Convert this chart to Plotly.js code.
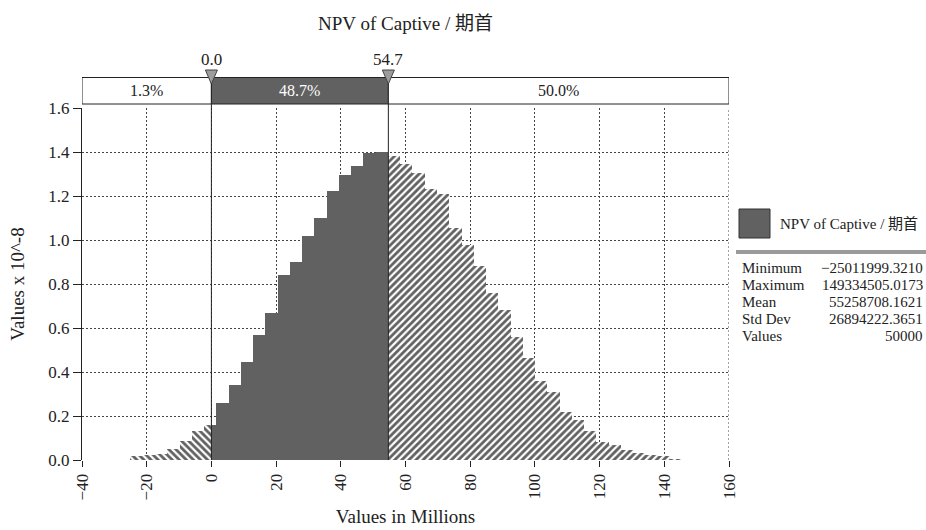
<!DOCTYPE html>
<html>
<head>
<meta charset="utf-8">
<script src="https://cdn.plot.ly/plotly-3.0.1.min.js"></script>
<style>html,body{margin:0;padding:0;background:#fff;}#chart{width:926px;height:530px;}</style>
</head>
<body>
<div id="chart"></div>
<script>
// ---- data ----
const chartTitle = 'NPV of Captive / 期首';
const xTitle = 'Values in Millions';
const yTitle = 'Values x 10^-8';
const minValue = -25.0119993210;   // millions
const maxValue = 149.3345050173;   // millions
const binCount = 46;
const density = [
  0.016, 0.025, 0.028, 0.049, 0.085, 0.130, 0.161,
  0.257, 0.339, 0.445, 0.566, 0.669, 0.843, 0.902, 1.016, 1.102, 1.225, 1.296, 1.335, 1.395, 1.400,
  1.384, 1.346, 1.305, 1.233, 1.207, 1.055, 0.978, 0.880, 0.760, 0.684, 0.561, 0.465, 0.358, 0.307,
  0.220, 0.184, 0.130, 0.084, 0.069, 0.046, 0.031, 0.024, 0.016, 0.004, 0.002
];
const delimiters = [0.0, 54.7];
const segmentPercents = [1.3, 48.7, 50.0];
const statLabels = ['Minimum', 'Maximum', 'Mean', 'Std Dev', 'Values'];
const statValues = ['\u221225011999.3210', '149334505.0173', '55258708.1621', '26894222.3651', '50000'];
const xRange = [-40, 160];
const yRange = [0, 1.6];

// ---- geometry helpers (layout only) ----
const W = 926, H = 530, L = 82, R = 197, T = 108, B = 70;
const PW = W - L - R, PH = H - T - B;
const px = p => (p - L) / PW;          // pixel x -> paper x
const py = p => (H - B - p) / PH;      // pixel y -> paper y
const unitsPerPx = (xRange[1] - xRange[0]) / PW;

const DARK = '#616161';
const FONT = "'Liberation Serif', 'Noto Sans CJK JP', serif";
const GRID = '#444';

// ---- split histogram bins into the three delimiter regions ----
const binW = (maxValue - minValue) / binCount;
function region(lo, hi) {
  const xs = [], ws = [], ys = [];
  for (let i = 0; i < binCount; i++) {
    const a = Math.max(minValue + i * binW, lo);
    const b = Math.min(minValue + (i + 1) * binW, hi);
    if (b > a) { xs.push((a + b) / 2); ws.push(b - a); ys.push(density[i]); }
  }
  return {xs, ws, ys};
}
const leftR = region(-Infinity, delimiters[0]);
const midR = region(delimiters[0], delimiters[1]);
const rightR = region(delimiters[1], Infinity);

function barTrace(r, pattern) {
  const t = {
    type: 'bar', x: r.xs, y: r.ys, width: r.ws, hoverinfo: 'skip',
    marker: {color: DARK, line: {width: 0}}
  };
  if (pattern) t.marker.pattern = {shape: pattern, fgcolor: DARK, bgcolor: '#ffffff', size: 5, solidity: 0.55};
  return t;
}

const traces = [barTrace(leftR, '\\'), barTrace(midR, null), barTrace(rightR, '/')];

// ---- shapes: right-edge gridline, delimiter bar, lines, triangles, legend ----
const shapes = [];
shapes.push({type: 'line', xref: 'x', yref: 'paper', x0: xRange[1], x1: xRange[1], y0: 0, y1: 1,
  line: {color: GRID, width: 1, dash: '2px,2px'}});
const bounds = [xRange[0], delimiters[0], delimiters[1], xRange[1]];
const boxTop = py(77.5), boxBot = py(104);
for (let i = 0; i < 3; i++) {
  shapes.push({type: 'rect', xref: 'x', yref: 'paper', x0: bounds[i], x1: bounds[i + 1], y0: boxBot, y1: boxTop,
    fillcolor: i === 1 ? DARK : '#ffffff', line: {color: '#222', width: 1}});
}
delimiters.forEach(d => {
  shapes.push({type: 'line', xref: 'x', yref: 'paper', x0: d, x1: d, y0: 0, y1: boxBot, line: {color: '#222', width: 1}});
});
delimiters.forEach(d => {
  const hw = 6 * unitsPerPx;
  shapes.push({type: 'path', xref: 'x', yref: 'paper',
    path: `M ${d - hw},${py(70)} L ${d + hw},${py(70)} L ${d},${py(84)} Z`,
    fillcolor: '#9c9c9c', line: {color: '#444', width: 1}});
});
// legend swatch & separator
shapes.push({type: 'rect', xref: 'paper', yref: 'paper', x0: px(739), x1: px(770), y0: py(238), y1: py(209),
  fillcolor: DARK, line: {color: '#333', width: 1}});
shapes.push({type: 'line', xref: 'paper', yref: 'paper', x0: px(736), x1: px(926), y0: py(252), y1: py(252),
  line: {color: '#9a9a9a', width: 4}});

// ---- annotations ----
const annotations = [];
delimiters.forEach(d => {
  annotations.push({xref: 'x', yref: 'paper', x: d, y: py(60), text: d.toFixed(1), showarrow: false,
    xanchor: 'center', yanchor: 'middle', font: {size: 17, color: '#222'}});
});
segmentPercents.forEach((p, i) => {
  annotations.push({xref: 'x', yref: 'paper', x: (bounds[i] + bounds[i + 1]) / 2, y: py(91),
    text: p.toFixed(1) + '%', showarrow: false, xanchor: 'center', yanchor: 'middle',
    font: {size: 16, color: i === 1 ? '#ffffff' : '#222'}});
});
annotations.push({xref: 'paper', yref: 'paper', x: px(778), y: py(224), text: chartTitle, showarrow: false,
  xanchor: 'left', yanchor: 'middle', font: {size: 15, color: '#222'}});
statLabels.forEach((lab, i) => {
  const yy = py(268 + i * 17);
  annotations.push({xref: 'paper', yref: 'paper', x: px(740), y: yy, text: lab, showarrow: false,
    xanchor: 'left', yanchor: 'middle', font: {size: 15, color: '#222'}});
  annotations.push({xref: 'paper', yref: 'paper', x: px(925), y: yy, text: statValues[i], showarrow: false,
    xanchor: 'right', yanchor: 'middle', font: {size: 15, color: '#222'}});
});

const layout = {
  width: W, height: H,
  margin: {l: L, r: R, t: T, b: B, pad: 0},
  paper_bgcolor: '#ffffff', plot_bgcolor: '#ffffff',
  font: {family: FONT, size: 17, color: '#222'},
  title: {text: chartTitle, font: {size: 19, color: '#222'}, xref: 'paper', x: 0.5, xanchor: 'center',
    yref: 'container', y: 1 - 23 / H, yanchor: 'middle'},
  showlegend: false,
  barmode: 'overlay', bargap: 0,
  xaxis: {
    range: xRange, tickmode: 'linear', tick0: 0, dtick: 20, tickangle: -90,
    ticks: 'outside', ticklen: 6, tickcolor: '#222', tickfont: {size: 17},
    showgrid: true, gridcolor: GRID, griddash: '2px,2px', gridwidth: 1,
    zeroline: false, showline: false, fixedrange: true,
    title: {text: xTitle, font: {size: 19}, standoff: 10}
  },
  yaxis: {
    range: yRange, tickmode: 'linear', tick0: 0, dtick: 0.2, tickformat: '.1f',
    ticks: 'outside', ticklen: 8, tickcolor: '#222', tickfont: {size: 17},
    showgrid: true, gridcolor: GRID, griddash: '2px,2px', gridwidth: 1,
    zeroline: false, showline: true, linecolor: '#222', linewidth: 1, fixedrange: true,
    title: {text: yTitle, font: {size: 19}, standoff: 18}
  },
  shapes: shapes,
  annotations: annotations
};

Plotly.newPlot('chart', traces, layout, {displayModeBar: false, staticPlot: true});
</script>
</body>
</html>
